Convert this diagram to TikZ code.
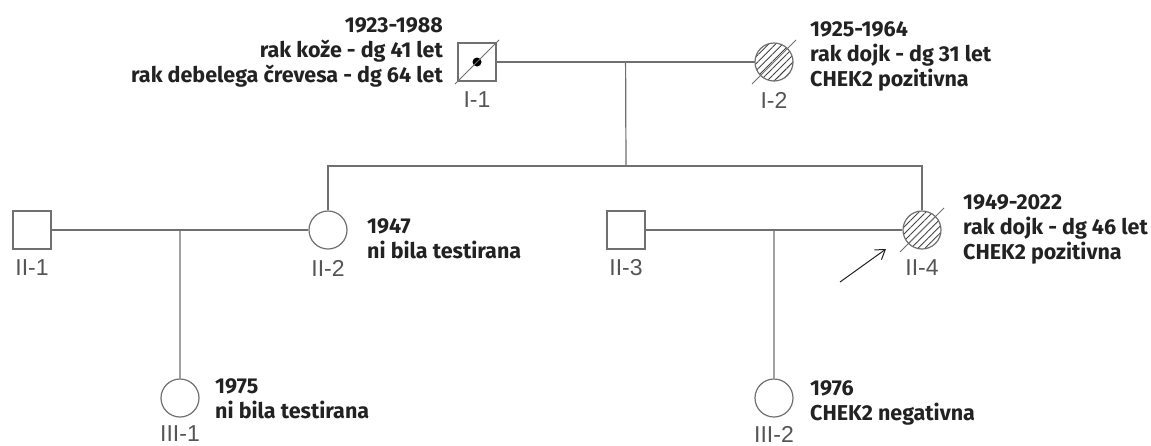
\documentclass[tikz,border=0pt]{standalone}
\usepackage{fontspec}
\setmainfont{Fira Sans}
\newfontfamily\labfont{Liberation Sans}
\usetikzlibrary{patterns.meta,arrows.meta,calc}
\definecolor{lineg}{HTML}{707070}
\definecolor{hatchg}{HTML}{444444}
\definecolor{txt}{HTML}{222222}
\definecolor{labg}{HTML}{555555}
\begin{document}
\begin{tikzpicture}[x=1pt,y=-1pt,
  male/.style={draw=lineg,line width=1.2pt,rectangle,minimum size=38pt,inner sep=0pt},
  female/.style={draw=lineg,line width=1.2pt,circle,minimum size=38pt,inner sep=0pt},
  affected/.style={pattern={Lines[angle=45,distance=5pt,line width=0.9pt]},pattern color=hatchg},
  rel/.style={draw=lineg,line width=1.2pt},
  slash/.style={draw=lineg,line width=1pt},
  info/.style={font=\fontsize{21.5}{25}\selectfont\bfseries,text=txt,inner sep=0pt},
  idlab/.style={font=\labfont\fontsize{23}{24}\selectfont,text=labg,inner sep=0pt},
  proband/.style={draw=txt,line width=1pt,-{Straight Barb[length=9pt,width=12pt]}},
]
\fill[white] (0,0) rectangle (1151,445);
\useasboundingbox (0,0) rectangle (1151,445);

% generation I
\node[male] (I1) at (477,62) {};
\node[female,affected] (I2) at (774,62) {};
% generation II
\node[male] (II1) at (32,230) {};
\node[female] (II2) at (328,230) {};
\node[male] (II3) at (626,230) {};
\node[female,affected] (II4) at (922,230) {};
% generation III
\node[female] (III1) at (180,398) {};
\node[female] (III2) at (774,398) {};

% symbol details
\fill[black] (I1.center) circle (4.5pt);
\draw[slash] ($(I1.center)+(-22,22)$) -- ($(I1.center)+(22,-22)$);
\draw[slash] ($(I2.center)+(-22,22)$) -- ($(I2.center)+(22,-22)$);
\draw[slash] ($(II4.center)+(-22,22)$) -- ($(II4.center)+(22,-22)$);

% connectors
\coordinate (m1) at ($(I1.east)!0.5!(I2.west)$);
\coordinate (sib) at (626,166);
\draw[rel] (I1) -- (I2);
\draw[rel] (m1) -- (sib);
\draw[rel] (II2.north) |- (sib) -| (II4.north);
\draw[rel] (II1) -- (II2);
\draw[rel] (II3) -- (II4);
\coordinate (m2) at ($(II1.east)!0.5!(II2.west)$);
\coordinate (m3) at ($(II3.east)!0.5!(II4.west)$);
\draw[rel] (m2) -- (III1.north);
\draw[rel] (m3) -- (III2.north);

% proband arrow
\coordinate (arS) at (840,282);
\coordinate (arE) at ($(II4.center)+(-36,19)$);
\draw[proband] (arS) -- (arE);

% id labels
\node[idlab] (lI1) at (477,100) {I-1};
\node[idlab] (lI2) at (774,100) {I-2};
\node[idlab] (lII1) at (32,268) {II-1};
\node[idlab] (lII2) at (328,268) {II-2};
\node[idlab] (lII3) at (626,268) {II-3};
\node[idlab] (lII4) at (922,268) {II-4};
\node[idlab] (lIII1) at (180,434) {III-1};
\node[idlab] (lIII2) at (774,434) {III-2};

% information
\node[info,anchor=north east,align=right] (tI1) at (443,17) {1923-1988\\rak kože - dg 41 let\\rak debelega črevesa - dg 64 let};
\node[info,anchor=north west,align=left] (tI2) at (810,21) {1925-1964\\rak dojk - dg 31 let\\CHEK2 pozitivna};
\node[info,anchor=north west,align=left] (tII2) at (367,218) {1947\\ni bila testirana};
\node[info,anchor=north west,align=left] (tII4) at (963,194) {1949-2022\\rak dojk - dg 46 let\\CHEK2 pozitivna};
\node[info,anchor=north west,align=left] (tIII1) at (215,378) {1975\\ni bila testirana};
\node[info,anchor=north west,align=left] (tIII2) at (810,380) {1976\\CHEK2 negativna};
\end{tikzpicture}
\end{document}
